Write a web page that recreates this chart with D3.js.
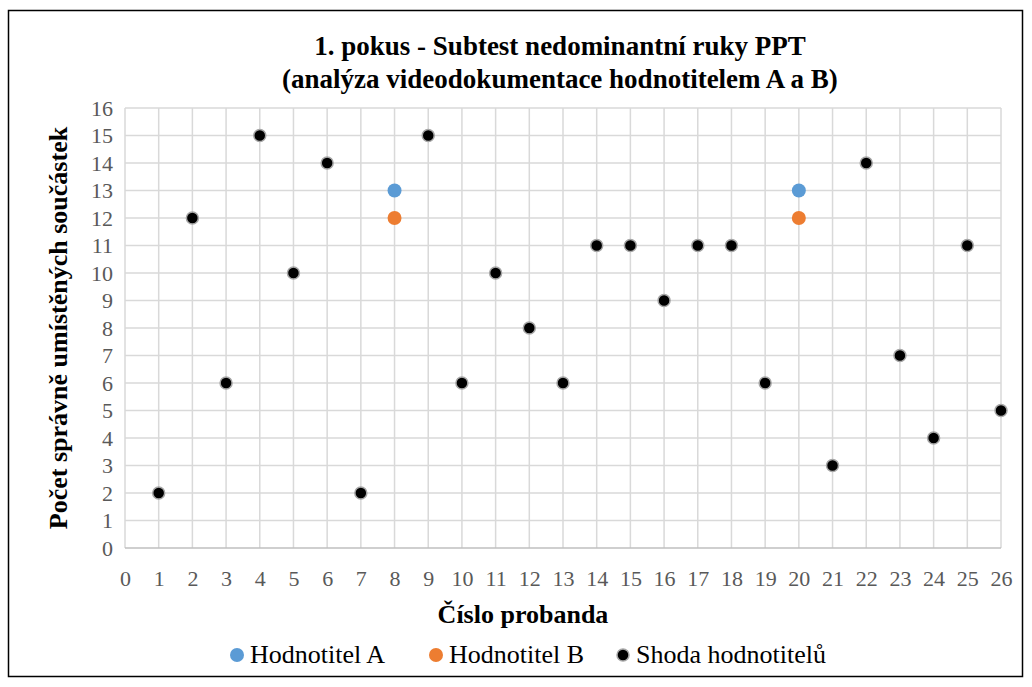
<!DOCTYPE html>
<html>
<head>
<meta charset="utf-8">
<script src="https://cdn.jsdelivr.net/npm/d3@7"></script>
<style>
body { margin: 0; background: #fff; }
svg text { font-family: "Liberation Serif", serif; }
</style>
</head>
<body>
<script>
// data
const proband = [1, 2, 3, 4, 5, 6, 7, 9, 10, 11, 12, 13, 14, 15, 16, 17, 18, 19, 21, 22, 23, 24, 25, 26];
const shoda = [2, 12, 6, 15, 10, 14, 2, 15, 6, 10, 8, 6, 11, 11, 9, 11, 11, 6, 3, 14, 7, 4, 11, 5];
const probandAB = [8, 20];
const hodnotitelA = [13, 13];
const hodnotitelB = [12, 12];
const xTicks = d3.range(0, 27);
const yTicks = d3.range(0, 17);

const options = {
    width: 1032,
    height: 687,
}

const FONT = "Liberation Serif";
const margin = { left: 125, right: 31, top: 108, bottom: 139 };

let svg = d3.select("body")
    .append("svg")
    .attr("width", options.width)
    .attr("height", options.height)
    .attr("font-family", FONT)

svg.append("rect")
    .attr("x", 8.5).attr("y", 10.5)
    .attr("width", 1014).attr("height", 666)
    .attr("fill", "white")
    .attr("stroke", "#000")
    .attr("stroke-width", 1.5)

const x = d3.scaleLinear().domain([0, 26]).range([margin.left, options.width - margin.right]);
const y = d3.scaleLinear().domain([0, 16]).range([options.height - margin.bottom, margin.top]);

// grid
let grid = svg.append("g")
grid.selectAll(".vg")
    .data(xTicks)
    .enter()
    .append("line")
    .attr("x1", d => x(d)).attr("x2", d => x(d))
    .attr("y1", y(0)).attr("y2", y(16))
    .attr("stroke", "#d9d9d9").attr("stroke-width", 1.5)
grid.selectAll(".hg")
    .data(yTicks)
    .enter()
    .append("line")
    .attr("x1", x(0)).attr("x2", x(26))
    .attr("y1", d => y(d)).attr("y2", d => y(d))
    .attr("stroke", d => d === 0 ? "#bfbfbf" : "#d9d9d9").attr("stroke-width", 1.5)

// tick labels
svg.append("g")
    .attr("transform", `translate(0,${y(0) + 19})`)
    .call(d3.axisBottom(x).tickValues(xTicks).tickSize(0).tickFormat(d3.format("d")))
    .call(g => g.select(".domain").remove())
    .attr("font-family", FONT)
    .attr("font-size", 22)
    .selectAll("text")
    .attr("fill", "#595959")

svg.append("g")
    .attr("transform", `translate(${x(0) - 9},0)`)
    .call(d3.axisLeft(y).tickValues(yTicks).tickSize(0).tickFormat(d3.format("d")))
    .call(g => g.select(".domain").remove())
    .attr("font-family", FONT)
    .attr("font-size", 22)
    .selectAll("text")
    .attr("fill", "#595959")

// titles
const title = (txt, xx, yy, size) => svg.append("text")
    .attr("x", xx).attr("y", yy)
    .attr("text-anchor", "middle")
    .attr("font-family", FONT)
    .attr("font-size", size)
    .attr("font-weight", "bold")
    .text(txt)

title("1. pokus - Subtest nedominantní ruky PPT", 560, 55, 27)
title("(analýza videodokumentace hodnotitelem A a B)", 560, 88, 27)
title("Číslo probanda", 523, 623, 26)
title("Počet správně umístěných součástek", 0, 0, 26)
    .attr("transform", `translate(67,${(y(0) + y(16)) / 2}) rotate(-90)`)

// points
const series = [
    { name: "Hodnotitel A", xs: probandAB, ys: hodnotitelA, fill: "#5b9bd5", stroke: "none" },
    { name: "Hodnotitel B", xs: probandAB, ys: hodnotitelB, fill: "#ed7d31", stroke: "none" },
    { name: "Shoda hodnotitelů", xs: proband, ys: shoda, fill: "#000", stroke: "#a6a6a6" },
];

series.forEach(s => {
    svg.append("g")
        .selectAll("circle")
        .data(s.xs.map((d, i) => [d, s.ys[i]]))
        .enter()
        .append("circle")
        .attr("cx", d => x(d[0]))
        .attr("cy", d => y(d[1]))
        .attr("r", s.stroke === "none" ? 7 : 6)
        .attr("fill", s.fill)
        .attr("stroke", s.stroke)
        .attr("stroke-width", 1.5)
})

// legend
const legendX = [237, 436, 623];
let legend = svg.append("g")
series.forEach((s, i) => {
    legend.append("circle")
        .attr("cx", legendX[i]).attr("cy", 655)
        .attr("r", s.stroke === "none" ? 7 : 6)
        .attr("fill", s.fill)
        .attr("stroke", s.stroke)
        .attr("stroke-width", 1.5)
    legend.append("text")
        .attr("x", legendX[i] + 13).attr("y", 663)
        .attr("font-family", FONT)
        .attr("font-size", 26)
        .attr("fill", "#000")
        .text(s.name)
})
</script>
</body>
</html>
